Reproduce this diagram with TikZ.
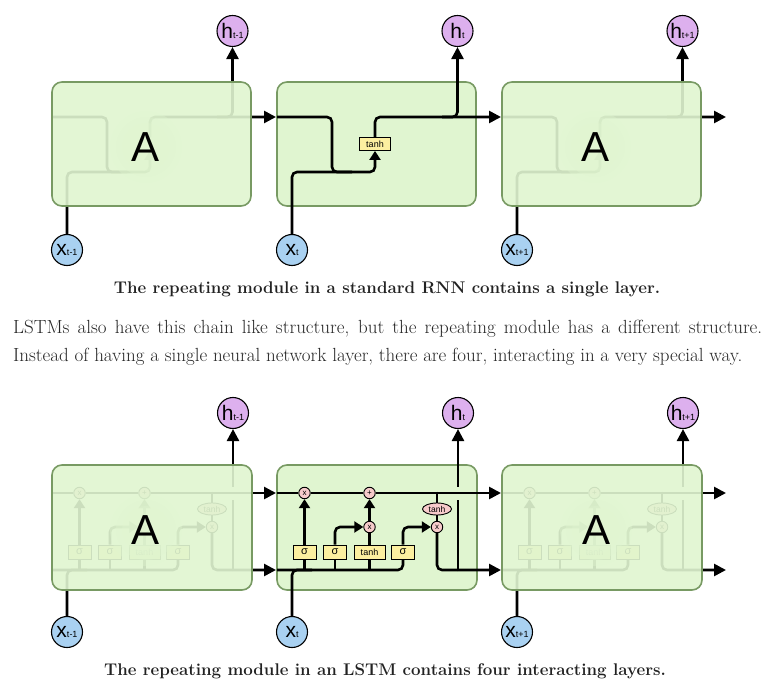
\documentclass[tikz,border=0pt]{standalone}
\usepackage{fontspec}
\setsansfont{Liberation Sans}
\usetikzlibrary{arrows.meta,shapes.geometric}
\definecolor{boxfill}{HTML}{E0F5D0}
\definecolor{boxedge}{HTML}{789A63}
\definecolor{hcol}{HTML}{DDB0EE}
\definecolor{xcol}{HTML}{A9D1F1}
\definecolor{laycol}{HTML}{FCEFA0}
\definecolor{opcol}{HTML}{F7CBCB}
\definecolor{txtcol}{HTML}{262626}
\definecolor{captcol}{HTML}{222222}
\newcommand\cellsub[1]{\raisebox{-0.5pt}{\fontsize{9}{9}\selectfont #1}}
\tikzset{
  cellbox/.style={rounded corners=10pt, fill=boxfill, draw=boxedge, line width=1.6pt, inner sep=0pt, outer sep=0pt},
  fadebox/.style={cellbox, fill opacity=0.91},
  conn/.style={line width=2.6pt, rounded corners=5pt},
  arr/.style={conn, -{Triangle[length=12pt,width=12pt]}},
  sarr/.style={conn, -{Triangle[length=9pt,width=11pt]}},
  hnode/.style={circle, draw, fill=hcol, line width=1.1pt, minimum size=31pt, inner sep=0pt, font=\sffamily\fontsize{21}{21}\selectfont},
  xnode/.style={hnode, fill=xcol},
  layer/.style={draw, fill=laycol, line width=0.9pt, minimum height=14pt, inner sep=0pt, font=\sffamily\fontsize{11}{11}\selectfont},
  sig/.style={layer, minimum width=23pt},
  tnh/.style={layer, minimum width=31pt, font=\sffamily\fontsize{9}{9}\selectfont},
  ell/.style={ellipse, draw, fill=opcol, line width=0.9pt, minimum width=29pt, minimum height=12pt, inner sep=0pt, font=\sffamily\fontsize{8.5}{8.5}\selectfont},
  op/.style={circle, draw, fill=opcol, line width=0.9pt, minimum size=11.5pt, inner sep=0pt, font=\sffamily\fontsize{8}{8}\selectfont},
  bigA/.style={font=\sffamily\fontsize{42}{42}\selectfont},
  glow/.style={fill=boxfill, fill opacity=0.35},
  para/.style={anchor=base west, text=txtcol, font=\fontsize{19}{22}\selectfont, inner sep=0pt},
  capt/.style={anchor=base, text=captcol, font=\bfseries\fontsize{16.9}{20}\selectfont, inner sep=0pt},
  hidden layer/.style={draw=none, fill=none},
}
% RNN cell internals, coordinates relative to the cell's left edge
\newcommand\rnnparts[5]{%
  \node[tnh, minimum height=13pt, #4] (#1tanh) at (98,144) {#5};
  \node[hnode] (#1h) at (180.5,31) {h\cellsub{#2}};
  \node[xnode] (#1x) at (15,250) {x\cellsub{#3}};
  \draw[conn] (0,117) -- (55,117) -- (55,172) -- (75,172);
  \draw[sarr] (#1x.north) -- (15,172) -- (98,172) -- (#1tanh.south);
  \draw[arr] (#1tanh.north) -- (98,117) -- (224,117);
  \draw[arr] (165,117) -- (180.5,117) -- (#1h.south);
}
% LSTM cell internals
\newcommand\lstmparts[3]{%
  \node[op] (#1f) at (27.5,493) {x};
  \node[op] (#1add) at (92.5,493) {+};
  \node[op] (#1i) at (92.5,527) {x};
  \node[op] (#1o) at (160,527) {x};
  \node[ell] (#1th) at (160,509) {tanh};
  \node[sig] (#1sa) at (27.5,552) {σ};
  \node[sig] (#1sb) at (58,552) {σ};
  \node[tnh] (#1tb) at (92.5,552) {tanh};
  \node[sig] (#1sc) at (126,552) {σ};
  \node[hnode] (#1h) at (181,413) {h\cellsub{#2}};
  \node[xnode] (#1x) at (15,632) {x\cellsub{#3}};
  \draw[conn] (0,493) -- (#1f.west);
  \draw[conn] (#1f.east) -- (#1add.west);
  \draw[arr] (#1add.east) -- (224,493);
  \draw[conn] (0,570) -- (126,570) -- (#1sc.south);
  \draw[conn] (#1x.north) -- (15,570) -- (35,570);
  \draw[conn] (#1sa.south) -- (27.5,571.3);
  \draw[conn] (#1sb.south) -- (58,571.3);
  \draw[conn] (#1tb.south) -- (92.5,571.3);
  \draw[sarr] (#1sa.north) -- (#1f.south);
  \draw[sarr] (#1sb.north) -- (58,527) -- (#1i.west);
  \draw[conn] (#1tb.north) -- (#1i.south);
  \draw[sarr] (#1i.north) -- (#1add.south);
  \draw[sarr] (#1sc.north) -- (126,527) -- (#1o.west);
  \draw[conn] (160,491.7) -- (#1th.north);
  \draw[conn] (#1th.south) -- (#1o.north);
  \draw[arr] (#1o.south) -- (160,570) -- (224,570);
  \draw[conn] (181,571.3) -- (181,499.5);
  \draw[arr] (181,486.5) -- (#1h.south);
}
% big faded "A" with a soft glow
\newcommand\bigletter[2]{%
  \coordinate (#1c) at #2;
  \fill[glow] (#1c) circle (36pt);
  \fill[glow] (#1c) circle (30pt);
  \fill[glow] (#1c) circle (24pt);
  \node[bigA] (#1) at (#1c) {A};
}
\begin{document}
\begin{tikzpicture}[x=1pt,y=-1pt]
\useasboundingbox (0,0) rectangle (770,684);
% ---------- RNN ----------
\begin{scope}[xshift=52pt]
  \rnnparts{ra}{t-1}{t-1}{hidden layer}{}
  \node[fadebox, minimum width=199pt, minimum height=124pt] (rabox) at (99.5,144) {};
  \bigletter{raA}{(94,147)}
\end{scope}
\begin{scope}[xshift=277pt]
  \node[cellbox, minimum width=199pt, minimum height=124pt] (rbbox) at (99.5,144) {};
  \rnnparts{rb}{t}{t}{}{tanh}
\end{scope}
\begin{scope}[xshift=502pt]
  \rnnparts{rc}{t+1}{t+1}{hidden layer}{}
  \node[fadebox, minimum width=199pt, minimum height=124pt] (rcbox) at (99.5,144) {};
  \bigletter{rcA}{(93,147)}
\end{scope}
% ---------- text ----------
\node[capt] (cap1) at (387,294) {The repeating module in a standard RNN contains a single layer.};
\node[para] (par1) at (13,333) {\makebox[749pt][s]{LSTMs also have this chain like structure, but the repeating module has a different structure.}};
\node[para] (par2) at (13,361) {Instead of having a single neural network layer, there are four, interacting in a very special way.};
% ---------- LSTM ----------
\begin{scope}[xshift=52pt]
  \lstmparts{la}{t-1}{t-1}
  \node[fadebox, minimum width=200pt, minimum height=125pt] (labox) at (100,527.5) {};
  \bigletter{laA}{(94,530)}
\end{scope}
\begin{scope}[xshift=277pt]
  \node[cellbox, minimum width=200pt, minimum height=125pt] (lbbox) at (100,527.5) {};
  \lstmparts{lb}{t}{t}
\end{scope}
\begin{scope}[xshift=502pt]
  \lstmparts{lc}{t+1}{t+1}
  \node[fadebox, minimum width=200pt, minimum height=125pt] (lcbox) at (100,527.5) {};
  \bigletter{lcA}{(94,530)}
\end{scope}
\node[capt] (cap2) at (385,675) {The repeating module in an LSTM contains four interacting layers.};
\end{tikzpicture}
\end{document}
